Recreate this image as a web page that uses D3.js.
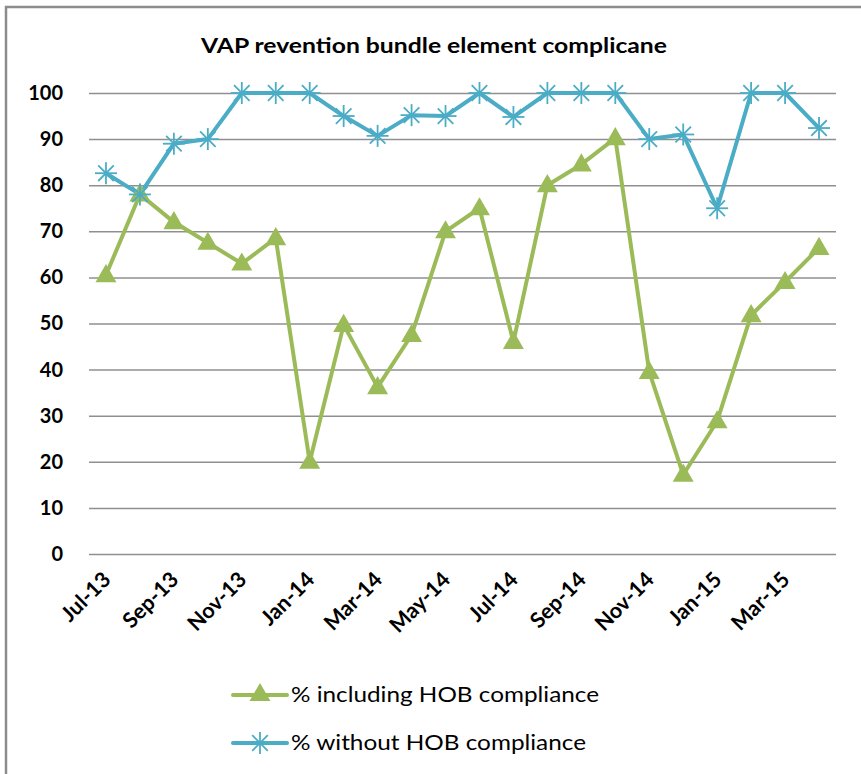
<!DOCTYPE html>
<html>
<head>
<meta charset="utf-8">
<script src="https://cdn.jsdelivr.net/npm/d3@7"></script>
<style>
  body { margin: 0; background: #fff; }
  svg { display: block; }
</style>
</head>
<body>
<div id="chart"></div>
<script>
// chart data
const months = ["Jul-13", "Aug-13", "Sep-13", "Oct-13", "Nov-13", "Dec-13",
  "Jan-14", "Feb-14", "Mar-14", "Apr-14", "May-14", "Jun-14", "Jul-14", "Aug-14",
  "Sep-14", "Oct-14", "Nov-14", "Dec-14", "Jan-15", "Feb-15", "Mar-15", "Apr-15"];
const withHob = [60.5, 78, 72, 67.5, 63, 68.5, 20, 49.7, 36.2, 47.5, 70, 75, 46, 80,
  84.5, 90.2, 39.5, 17.2, 28.8, 51.8, 59, 66.4];
const withoutHob = [82.6, 78, 89, 90, 100, 100, 100, 95, 90.7, 95.2, 95, 100, 94.8, 100,
  100, 100, 90, 91, 75, 100, 100, 92.4];
const yTicks = [0, 10, 20, 30, 40, 50, 60, 70, 80, 90, 100];
const chartTitle = "VAP revention bundle element complicane";
const seriesNames = ["% including HOB compliance", "% without HOB compliance"];

const width = 861, height = 774;
const green = "#9bbb59", blue = "#4bacc6";
const font = "Lato, 'Open Sans', sans-serif";

const svg = d3.select("#chart").append("svg")
  .attr("width", width)
  .attr("height", height);

// outer frame (only top and left visible)
svg.append("path")
  .attr("d", "M6,774 L6,7 L861,7")
  .attr("fill", "none")
  .attr("stroke", "#8c8c8c")
  .attr("stroke-width", 2.5);

// scales
const x = d3.scaleBand().domain(months).range([89, 836]);
const y = d3.scaleLinear().domain([0, 100]).range([554, 93]);
const cx = d => x(d) + x.bandwidth() / 2;

// title
svg.append("text")
  .attr("x", 434).attr("y", 53)
  .attr("text-anchor", "middle")
  .attr("font-family", font)
  .attr("font-weight", "bold")
  .attr("font-size", 21.5)
  .attr("textLength", 466)
  .attr("lengthAdjust", "spacingAndGlyphs")
  .text(chartTitle);

// gridlines + y labels
const yAxis = d3.axisLeft(y).tickValues(yTicks).tickSize(-(836 - 89)).tickPadding(26);
const gy = svg.append("g").attr("transform", "translate(89,0)").call(yAxis);
gy.select(".domain").remove();
gy.selectAll(".tick line").attr("stroke", "#8f8f8f").attr("stroke-width", 1.5);
gy.selectAll(".tick text")
  .attr("font-family", font)
  .attr("font-weight", "bold")
  .attr("font-size", 20)
  .attr("fill", "#000");

// x labels, every second month, rotated
const xAxis = d3.axisBottom(x)
  .tickValues(months.filter((d, i) => i % 2 === 0))
  .tickSize(0).tickPadding(0);
const gx = svg.append("g").attr("transform", "translate(0,554)").call(xAxis);
gx.select(".domain").remove();
gx.selectAll(".tick text")
  .attr("font-family", font)
  .attr("font-weight", "bold")
  .attr("font-size", 21.5)
  .attr("fill", "#000")
  .attr("text-anchor", "end")
  .attr("dy", 0)
  .attr("transform", "translate(6,27) rotate(-45)");

// lines
const line = d3.line().x((d, i) => cx(months[i])).y(d => y(d));

svg.append("path").datum(withHob)
  .attr("d", line)
  .attr("fill", "none")
  .attr("stroke", green)
  .attr("stroke-width", 4)
  .attr("stroke-linejoin", "round");

svg.append("path").datum(withoutHob)
  .attr("d", line)
  .attr("fill", "none")
  .attr("stroke", blue)
  .attr("stroke-width", 4)
  .attr("stroke-linejoin", "round");

// markers
const tri = d3.symbol().type(d3.symbolTriangle).size(190);
function star(g, r) {
  for (let a = 0; a < 4; a++) {
    const ang = a * Math.PI / 4;
    g.append("line")
      .attr("x1", -r * Math.cos(ang)).attr("y1", -r * Math.sin(ang))
      .attr("x2", r * Math.cos(ang)).attr("y2", r * Math.sin(ang))
      .attr("stroke", blue).attr("stroke-width", 1.8);
  }
}

svg.append("g").selectAll("path")
  .data(withHob)
  .join("path")
  .attr("d", tri)
  .attr("transform", (d, i) => `translate(${cx(months[i])},${y(d) + 1})`)
  .attr("fill", green);

svg.append("g").selectAll("g")
  .data(withoutHob)
  .join("g")
  .attr("transform", (d, i) => `translate(${cx(months[i])},${y(d)})`)
  .each(function () { star(d3.select(this), 11); });

// legend
const legendLen = [308, 295];
const legend = svg.append("g");
[0, 1].forEach(i => {
  const ly = i === 0 ? 695 : 743;
  const col = i === 0 ? green : blue;
  legend.append("line")
    .attr("x1", 233).attr("x2", 287).attr("y1", ly).attr("y2", ly)
    .attr("stroke", col).attr("stroke-width", 4).attr("stroke-linecap", "round");
  if (i === 0) {
    legend.append("path").attr("d", tri).attr("fill", green)
      .attr("transform", `translate(260,${ly})`);
  } else {
    star(legend.append("g").attr("transform", `translate(260,${ly})`), 11);
  }
  legend.append("text")
    .attr("x", 291).attr("y", ly)
    .attr("dy", "0.35em")
    .attr("font-family", font)
    .attr("font-size", 21)
    .attr("fill", "#000")
    .attr("textLength", legendLen[i])
    .attr("lengthAdjust", "spacingAndGlyphs")
    .text(seriesNames[i]);
});
</script>
</body>
</html>
